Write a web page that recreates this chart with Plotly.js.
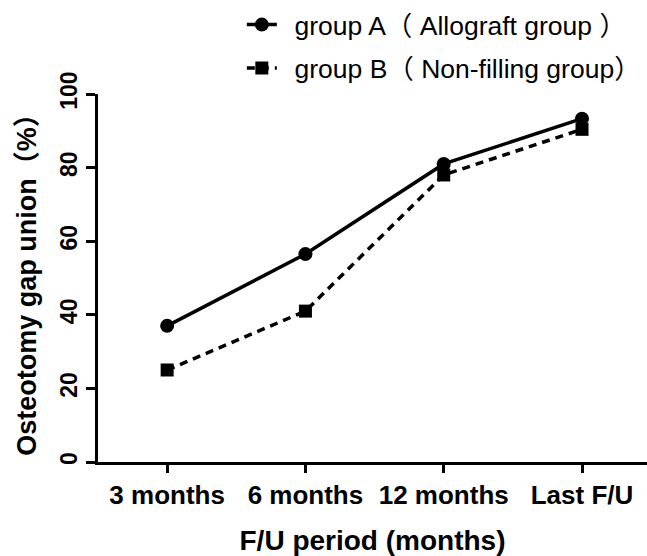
<!DOCTYPE html>
<html>
<head>
<meta charset="utf-8">
<script src="https://cdn.plot.ly/plotly-3.0.1.min.js"></script>
<style>html,body{margin:0;padding:0;background:#fff}#chart{width:647px;height:556px}</style>
</head>
<body>
<div id="chart"></div>
<script>
var categories = ["3 months", "6 months", "12 months", "Last F/U"];
var groupA = [37, 56.5, 81, 93.3];
var groupB = [25, 41, 78, 90.4];
var yTicks = [0, 20, 40, 60, 80, 100];
var nameA = "\u00a0\u2009group A\uFF08 Allograft group \uFF09";
var nameB = "\u00a0\u2009group B\uFF08 Non-filling group\uFF09";

var fontFam = "Liberation Sans, Arial, Noto Sans CJK SC, sans-serif";

var traces = [
  {x: categories, y: groupA, name: nameA, type: "scatter", mode: "lines+markers",
   legendgroup: "a",
   line: {color: "#000", width: 3.5, dash: "solid"},
   marker: {symbol: "circle", size: 14, color: "#000"}},
  {x: categories, y: groupB, name: nameB, type: "scatter", mode: "lines+markers",
   legendgroup: "b",
   line: {color: "#000", width: 3.5, dash: "8px,6px"},
   marker: {symbol: "square", size: 13, color: "#000"}}
];

var layout = {
  width: 647, height: 556,
  margin: {l: 98, r: 0, t: 94, b: 94, pad: 0, autoexpand: false},
  paper_bgcolor: "#fff", plot_bgcolor: "#fff",
  font: {family: fontFam, color: "#000"},
  showlegend: true,
  legend: {x: 0.262, y: 1.253, xanchor: "left", yanchor: "top",
           traceorder: "grouped", tracegroupgap: 6,
           font: {size: 26.5, family: fontFam, color: "#000"},
           bgcolor: "rgba(0,0,0,0)"},
  xaxis: {
    type: "category", range: [-0.5, 3.47],
    showline: true, linecolor: "#000", linewidth: 3,
    ticks: "outside", ticklen: 8, tickwidth: 3, tickcolor: "#000",
    tickangle: 0, automargin: false,
    showgrid: false, zeroline: false, fixedrange: true,
    tickfont: {size: 26, family: fontFam, weight: "bold", color: "#000"},
    title: {text: "F/U period (months)", standoff: 22,
            font: {size: 28, family: fontFam, weight: "bold", color: "#000"}}
  },
  yaxis: {
    range: [0, 100], tickvals: yTicks, ticktext: yTicks.map(String),
    tickangle: -90, automargin: false,
    showline: true, linecolor: "#000", linewidth: 3,
    ticks: "outside", ticklen: 9, tickwidth: 3, tickcolor: "#000",
    showgrid: false, zeroline: false, fixedrange: true,
    tickfont: {size: 23, family: fontFam, weight: "bold", color: "#000"},
    title: {text: "Osteotomy gap union\uFF08%\uFF09", standoff: 12,
            font: {size: 27, family: fontFam, weight: "bold", color: "#000"}}
  }
};

Plotly.newPlot("chart", traces, layout, {displayModeBar: false, staticPlot: true});
</script>
</body>
</html>
